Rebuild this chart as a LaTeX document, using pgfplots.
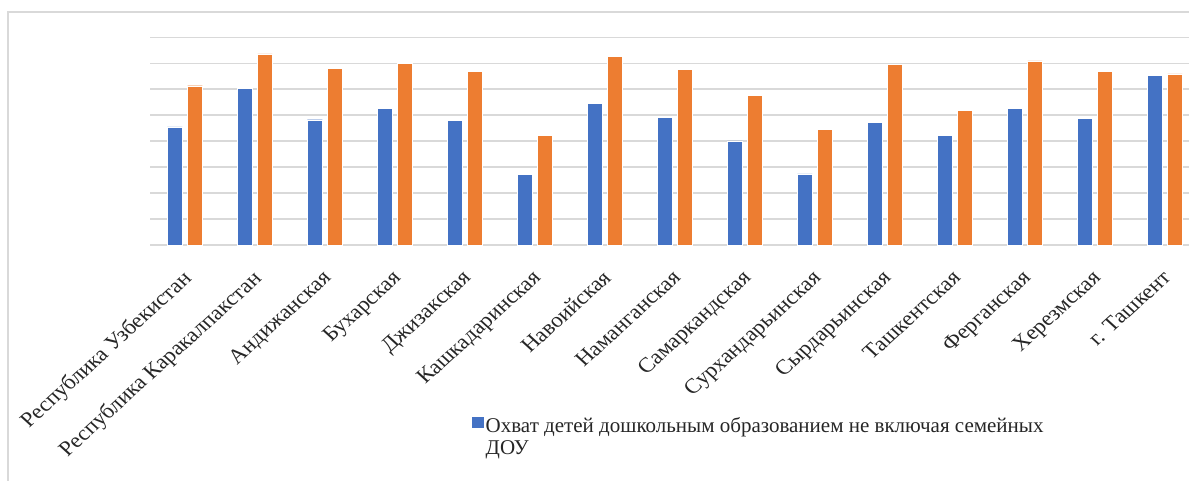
\documentclass[border=0pt]{standalone}
\usepackage{fontspec}
\setmainfont{Liberation Serif}
\usepackage{pgfplots}
\pgfplotsset{compat=1.18}
\definecolor{cblue}{HTML}{4472C4}
\definecolor{corange}{HTML}{ED7D31}
\definecolor{cgrid}{HTML}{D9D9D9}
\definecolor{ctext}{HTML}{262626}
\begin{document}
\begin{tikzpicture}[x=1pt,y=1pt]
\useasboundingbox (0,0) rectangle (1189,480);
\fill[white] (0,0) rectangle (1189,480);
\draw[cgrid, line width=2pt] (8,-5) -- (8,468) -- (1200,468);
\begin{axis}[
  at={(150pt,235pt)}, anchor=south west,
  scale only axis, width=1039pt, height=207.5pt,
  xmin=-0.5, xmax=14.343, ymin=0, ymax=8,
  axis line style={draw=none},
  tick style={draw=none},
  ytick={0,1,...,8}, yticklabels={},
  ymajorgrids, grid style={cgrid, line width=1.8pt},
  major tick length=0pt,
  xtick={0,...,14},
  xticklabels={Республика Узбекистан, Республика Каракалпакстан, Андижанская, Бухарская, Джизакская, Кашкадаринская, Навоийская, Наманганская, Самаркандская, Сурхандарьинская, Сырдарьинская, Ташкентская, Ферганская, Херезмская, г. Ташкент},
  xticklabel style={anchor=north east, inner sep=0pt, xshift=-4pt, yshift=-24pt, xscale=1.1, rotate=45, font=\fontsize{21}{21}\selectfont, text=ctext},
  ybar, bar width=0.214,
  legend style={at={(0.31,-0.82)}, anchor=north west, draw=none, fill=none, inner sep=0pt, font=\fontsize{21}{22}\selectfont, text=ctext, cells={align=left}},
  legend image code/.code={\fill[cblue] (0pt,9pt) rectangle (11pt,19.5pt);},
  clip=false,
]
\addplot[fill=cblue, draw=white, line width=0.4pt, bar shift=-0.143] coordinates {
(0,4.55) (1,6.05) (2,4.83) (3,5.28) (4,4.80) (5,2.72) (6,5.47) (7,4.92) (8,4.01) (9,2.74) (10,4.74) (11,4.24) (12,5.28) (13,4.87) (14,6.55)};
\addlegendentry{Охват детей дошкольным образованием не включая семейных\\ДОУ}
\addplot[fill=corange, draw=white, line width=0.4pt, bar shift=0.143, forget plot] coordinates {
(0,6.14) (1,7.37) (2,6.82) (3,7.01) (4,6.69) (5,4.24) (6,7.28) (7,6.78) (8,5.78) (9,4.47) (10,6.97) (11,5.19) (12,7.10) (13,6.69) (14,6.60)};
\end{axis}
\end{tikzpicture}
\end{document}
